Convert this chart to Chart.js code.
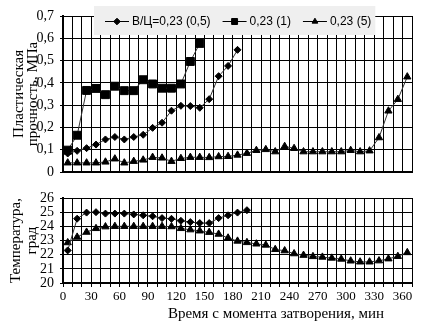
<!DOCTYPE html>
<html>
<head>
<meta charset="utf-8">
<script src="https://cdn.jsdelivr.net/npm/chart.js@4.4.1/dist/chart.umd.min.js"></script>
<style>
  html, body { margin: 0; padding: 0; background: #fff; }
  #wrap { position: relative; width: 422px; height: 326px; }
  #chartTop { position: absolute; left: 0; top: 0; }
  #chartBot { position: absolute; left: 0; top: 185px; }
</style>
</head>
<body>
<div id="wrap">
  <canvas id="chartTop" width="422" height="185"></canvas>
  <canvas id="chartBot" width="422" height="141"></canvas>
</div>
<script>
// ---- данные ----
// моменты измерений, мин
var times = [5, 15, 25, 35, 45, 55, 65, 75, 85, 95, 105, 115, 125, 135, 145, 155, 165, 175, 185,
             195, 205, 215, 225, 235, 245, 255, 265, 275, 285, 295, 305, 315, 325, 335, 345, 355, 365];

var seriesNames = ['В/Ц=0,23 (0,5)', '0,23 (1)', '0,23 (5)'];

// пластическая прочность, МПа
var strength05 = [0.083, 0.095, 0.107, 0.123, 0.146, 0.157, 0.146, 0.157, 0.167, 0.198, 0.221,
                  0.275, 0.297, 0.296, 0.288, 0.327, 0.430, 0.476, 0.548];
var strength1  = [0.098, 0.165, 0.366, 0.375, 0.347, 0.385, 0.365, 0.365, 0.414, 0.395, 0.376,
                  0.376, 0.395, 0.496, 0.577];
var strength5  = [0.041, 0.041, 0.041, 0.041, 0.045, 0.059, 0.041, 0.048, 0.054, 0.066, 0.063,
                  0.048, 0.061, 0.066, 0.066, 0.065, 0.069, 0.070, 0.076, 0.084, 0.097, 0.101,
                  0.091, 0.115, 0.106, 0.091, 0.091, 0.091, 0.091, 0.091, 0.097, 0.091, 0.095,
                  0.154, 0.274, 0.326, 0.427];

// температура, град
var temp05 = [22.3, 24.54, 24.97, 25.0, 24.9, 24.9, 24.9, 24.84, 24.78, 24.71, 24.58, 24.53,
              24.39, 24.3, 24.23, 24.23, 24.58, 24.78, 24.97, 25.14];
var temp5  = [22.85, 23.24, 23.59, 23.85, 23.97, 24.0, 24.0, 24.0, 24.0, 24.0, 24.0, 23.98,
              23.85, 23.76, 23.68, 23.58, 23.45, 23.18, 22.96, 22.86, 22.76, 22.68, 22.37,
              22.28, 22.07, 21.96, 21.87, 21.83, 21.76, 21.69, 21.56, 21.49, 21.49, 21.57,
              21.71, 21.88, 22.15];

// подписи оси X (каждые 30 мин)
var xLabelTicks = [0, 30, 60, 90, 120, 150, 180, 210, 240, 270, 300, 330, 360];

var xTitle = 'Время с момента затворения, мин';
var yTitleTop = ['Пластическая', 'прочность, МПа'];
var yTitleBot = ['Температура,', 'град'];

// ---- вспомогательное ----
function pts(vals) {
  return vals.map(function(v, i) { return { x: times[i], y: v }; });
}

function serie(label, vals, style, r) {
  return {
    label: label,
    data: pts(vals),
    showLine: true,
    borderColor: '#333',
    borderWidth: 1,
    pointStyle: style,
    pointRadius: r,
    pointBackgroundColor: '#000',
    pointBorderColor: '#000',
    pointBorderWidth: 1
  };
}

var serif = 'Liberation Serif, Times New Roman, serif';
var sans = 'Liberation Sans, Arial, sans-serif';

// легенда в сером прямоугольнике поверх области построения
var legendBox = {
  id: 'legendBox',
  afterDraw: function(chart) {
    var ctx = chart.ctx;
    var ds = chart.data.datasets;
    ctx.save();
    ctx.font = '12px ' + sans;
    var x = 105, y = 21, boxL = 94;
    var items = [];
    ds.forEach(function(d) {
      var w = ctx.measureText(d.label).width;
      items.push({ d: d, x: x, w: w });
      x += 24 + 3 + w + 12;
    });
    var boxR = x - 12 + 4;
    ctx.fillStyle = '#efefef';
    ctx.fillRect(boxL, 6, boxR - boxL, 29);
    items.forEach(function(it) {
      ctx.strokeStyle = '#000';
      ctx.lineWidth = 1;
      ctx.beginPath();
      ctx.moveTo(it.x, y + 0.5);
      ctx.lineTo(it.x + 24, y + 0.5);
      ctx.stroke();
      ctx.fillStyle = '#000';
      Chart.helpers.drawPoint(ctx, {
        pointStyle: it.d.pointStyle,
        radius: it.d.pointStyle === 'rect' ? 4.2 : 3.3,
        rotation: 0,
        borderWidth: 1
      }, it.x + 12, y + 0.5);
      ctx.fillStyle = '#000';
      ctx.textBaseline = 'middle';
      ctx.textAlign = 'left';
      ctx.fillText(it.d.label, it.x + 27, y + 1);
    });
    ctx.restore();
  }
};

// подпись оси X нижней панели
var xTitlePlugin = {
  id: 'xTitlePlugin',
  afterDraw: function(chart) {
    var ctx = chart.ctx;
    ctx.save();
    ctx.font = '15px ' + serif;
    ctx.fillStyle = '#000';
    ctx.textAlign = 'center';
    ctx.textBaseline = 'middle';
    ctx.fillText(xTitle, 276, 129);
    ctx.restore();
  }
};

function comma(v, digits) {
  if (Math.abs(v) < 1e-9) return '0';
  return v.toFixed(digits).replace('.', ',');
}

// ---- верхняя панель: пластическая прочность ----
new Chart(document.getElementById('chartTop'), {
  type: 'scatter',
  data: {
    datasets: [
      serie(seriesNames[0], strength05, 'rectRot', 3.5),
      serie(seriesNames[1], strength1, 'rect', 5.6),
      serie(seriesNames[2], strength5, 'triangle', 4.2)
    ]
  },
  options: {
    responsive: false,
    animation: false,
    devicePixelRatio: 1,
    events: [],
    layout: { padding: { left: 0, right: 10, top: 16, bottom: 10 } },
    plugins: { legend: { display: false }, tooltip: { enabled: false } },
    scales: {
      x: {
        type: 'linear', min: 0, max: 370,
        ticks: { stepSize: 10, display: false },
        grid: { color: '#000', lineWidth: 1, drawTicks: false },
        border: { color: '#000', width: 2 }
      },
      y: {
        min: 0, max: 0.7,
        ticks: {
          stepSize: 0.1, autoSkip: false, color: '#000', padding: 6,
          font: { family: serif, size: 14, lineHeight: 1 },
          callback: function(v) { return comma(v, 1); }
        },
        grid: { color: '#000', lineWidth: 1, tickLength: 3 },
        border: { color: '#000', width: 2 },
        title: {
          display: true, text: yTitleTop, color: '#000',
          font: { family: serif, size: 15, lineHeight: 0.95 },
          padding: { top: 12, bottom: 0 }
        },
        afterFit: function(s) { s.width = 63; }
      }
    }
  },
  plugins: [legendBox]
});

// ---- нижняя панель: температура ----
new Chart(document.getElementById('chartBot'), {
  type: 'scatter',
  data: {
    datasets: [
      serie(seriesNames[0], temp05, 'rectRot', 3.5),
      serie(seriesNames[2], temp5, 'triangle', 4.2)
    ]
  },
  options: {
    responsive: false,
    animation: false,
    devicePixelRatio: 1,
    events: [],
    layout: { padding: { left: 0, right: 10, top: 7, bottom: 20 } },
    plugins: { legend: { display: false }, tooltip: { enabled: false } },
    scales: {
      x: {
        type: 'linear', min: 0, max: 370,
        ticks: {
          stepSize: 10, autoSkip: false, maxRotation: 0, color: '#000', padding: 3,
          font: { family: serif, size: 13, lineHeight: 1 },
          callback: function(v) { return xLabelTicks.indexOf(v) >= 0 ? String(v) : ''; }
        },
        grid: { color: '#000', lineWidth: 1, tickLength: 4 },
        border: { color: '#000', width: 2 }
      },
      y: {
        min: 20, max: 26,
        ticks: {
          stepSize: 1, autoSkip: false, color: '#000', padding: 6,
          font: { family: serif, size: 14, lineHeight: 1 }
        },
        grid: { color: '#000', lineWidth: 1, tickLength: 3 },
        border: { color: '#000', width: 2 },
        title: {
          display: true, text: yTitleBot, color: '#000',
          font: { family: serif, size: 15, lineHeight: 1.05 },
          padding: { top: 8, bottom: 0 }
        },
        afterFit: function(s) { s.width = 63; }
      }
    }
  },
  plugins: [xTitlePlugin]
});
</script>
</body>
</html>
